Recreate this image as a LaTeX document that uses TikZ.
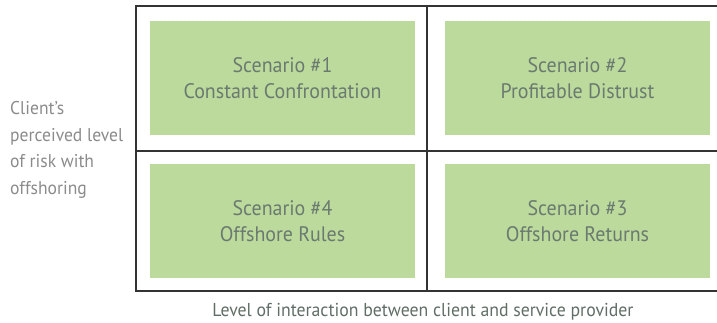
\documentclass[tikz,border=0pt]{standalone}
\usepackage{fontspec}
\setmainfont{PT Sans}[FakeStretch=0.95]
\usepackage{tikz}
\usetikzlibrary{positioning}
\definecolor{cellgreen}{HTML}{BCDA9C}
\definecolor{celltext}{HTML}{6B7A70}
\definecolor{axistext}{HTML}{8A8C8A}
\definecolor{gridline}{HTML}{333333}

\begin{document}
\begin{tikzpicture}[x=1pt,y=-1pt,
 cell/.style={rectangle,fill=cellgreen,minimum width=265pt,minimum height=114pt,
              align=center,text=celltext,font=\fontsize{21}{26}\selectfont,inner sep=0pt},
 axis/.style={align=left,text=axistext,font=\fontsize{18.5}{26.5}\selectfont,inner sep=0pt},
 grid/.style={draw=gridline,line width=1.4pt}
]
\useasboundingbox (0,0) rectangle (717,322);
% frame and quadrant lines
\coordinate (tl) at (136,6);
\coordinate (tr) at (717,6);
\coordinate (ml) at (136,151);
\coordinate (mr) at (717,151);
\coordinate (bl) at (136,291);
\coordinate (br) at (717,291);
\coordinate (mt) at (427,6);
\coordinate (mb) at (427,291);
\draw[grid] (tr) -- (tl) -- (bl) -- (br);
\draw[grid] (ml) -- (mr);
\draw[grid] (mt) -- (mb);
% the four scenarios
\node[cell] (sc1) at (282.5,78) {Scenario \#1\\Constant Confrontation};
\node[cell] (sc2) at (577.5,78) {Scenario \#2\\Profitable Distrust};
\node[cell] (sc4) at (282.5,221) {Scenario \#4\\Offshore Rules};
\node[cell] (sc3) at (577.5,221) {Scenario \#3\\Offshore Returns};
% axis labels
\node[axis,anchor=west] (risk) at (10,150) {Client’s\\perceived level\\of risk with\\offshoring};
\node[axis,anchor=base,text=celltext!90!black,font=\fontsize{18.7}{26.5}\selectfont] (interaction) at (423,316) {Level of interaction between client and service provider};
\end{tikzpicture}
\end{document}
